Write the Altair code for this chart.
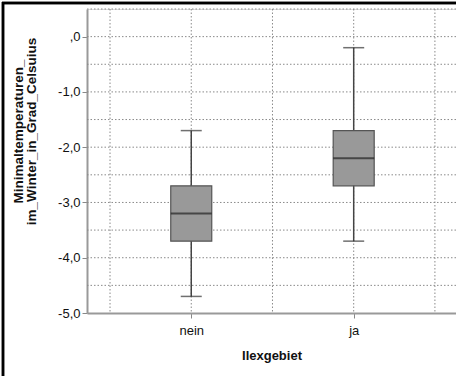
import altair as alt
import pandas as pd

# Box plot summary per group
groups = ["nein", "ja"]
positions = [1, 2]
whisker_low = [-4.7, -3.7]
q1 = [-3.7, -2.7]
median = [-3.2, -2.2]
q3 = [-2.7, -1.7]
whisker_high = [-1.7, -0.2]

# Reference grid
y_grid = [-4.5, -4.0, -3.5, -3.0, -2.5, -2.0, -1.5, -1.0, -0.5, 0.0, 0.5]
x_grid = [0.5, 1.0, 1.5, 2.0, 2.5]
y_ticks = [-5, -4, -3, -2, -1, 0]

df = pd.DataFrame({
    "group": groups, "pos": positions, "lo": whisker_low, "q1": q1,
    "med": median, "q3": q3, "hi": whisker_high,
})

W, H = 369, 304
xs = alt.Scale(domain=[0.389, 2.599], nice=False, zero=False)
ys = alt.Scale(domain=[-5, 0.5], nice=False, zero=False)

FONT = "Liberation Sans"
label_map = " : ".join(f"datum.value == {p} ? '{g}'" for p, g in zip(positions, groups)) + " : ''"

x_axis = alt.Axis(
    values=positions, labelExpr=label_map, grid=False, title="Ilexgebiet",
    titleFont=FONT, titleFontSize=13, titleFontWeight="bold", titleColor="#111",
    labelFont=FONT, labelFontSize=13, labelColor="#111", labelPadding=6,
    domainColor="#999", domainWidth=2, tickColor="#888", tickSize=5,
    titlePadding=12,
)
# German decimal comma, plain hyphen for the sign, and ",0" for zero
y_label_expr = (
    "datum.value == 0 ? ',0' : "
    "(datum.value < 0 ? '-' : '') + replace(format(abs(datum.value), '.1f'), '.', ',')"
)
y_axis = alt.Axis(
    values=y_ticks, grid=False, labelExpr=y_label_expr,
    title=["Minimaltemperaturen_", "im_Winter_in_Grad_Celsuius"],
    titleFont=FONT, titleFontSize=13.5, titleFontWeight="bold", titleColor="#111",
    titleX=-62, titleY=122, titleLineHeight=13,
    labelFont=FONT, labelFontSize=13, labelColor="#111", labelPadding=2,
    domainColor="#999", domainWidth=2, tickColor="#888", tickSize=5,
)


def X(field):
    return alt.X(field, scale=xs, axis=x_axis)


def Y(field):
    return alt.Y(field, scale=ys, axis=y_axis)


grid_color = "#8a8a8a"
hgrid = alt.Chart(pd.DataFrame({"v": y_grid})).mark_rule(
    color=grid_color, strokeDash=[1.5, 2], strokeWidth=1
).encode(y=Y("v:Q"))
vgrid = alt.Chart(pd.DataFrame({"v": x_grid})).mark_rule(
    color=grid_color, strokeDash=[1.5, 2], strokeWidth=1
).encode(x=X("v:Q"))

base = alt.Chart(df)
whisk = base.mark_rule(color="#444", strokeWidth=1.5).encode(
    x=X("pos:Q"), y=Y("lo:Q"), y2="hi:Q"
)
box = base.mark_bar(size=41, color="#999999", stroke="#555", strokeWidth=1.2).encode(
    x=X("pos:Q"), y=Y("q1:Q"), y2="q3:Q"
)
med = base.mark_tick(orient="horizontal", size=41, thickness=2, color="#222").encode(
    x=X("pos:Q"), y=Y("med:Q")
)
cap_lo = base.mark_tick(orient="horizontal", size=21, thickness=1.5, color="#333").encode(
    x=X("pos:Q"), y=Y("lo:Q")
)
cap_hi = base.mark_tick(orient="horizontal", size=21, thickness=1.5, color="#333").encode(
    x=X("pos:Q"), y=Y("hi:Q")
)

# Frame along the top and left edges of the figure
frame_left = alt.Chart(df).mark_rule(color="#000", strokeWidth=2.5).encode(
    x=alt.value(-84), y=alt.value(-7), y2=alt.value(380)
)
frame_top = alt.Chart(df).mark_rule(color="#000", strokeWidth=2.5).encode(
    x=alt.value(-85), x2=alt.value(380), y=alt.value(-6)
)

chart = alt.layer(
    hgrid, vgrid, whisk, box, med, cap_lo, cap_hi, frame_left, frame_top
).properties(
    width=W, height=H,
    autosize=alt.AutoSizeParams(type="none"),
    padding={"left": 87, "top": 9, "right": 0, "bottom": 63},
).configure_view(stroke=None).configure(background="white")

chart.save("out.html", embed_options={"renderer": "svg", "actions": False})
